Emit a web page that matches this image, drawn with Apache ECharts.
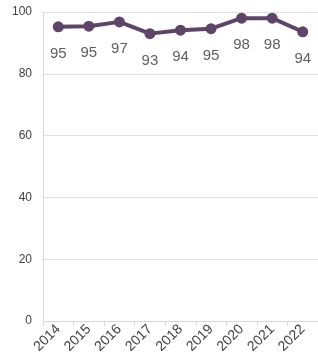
<!DOCTYPE html>
<html>
<head>
<meta charset="utf-8">
<script src="https://cdn.jsdelivr.net/npm/echarts@6/dist/echarts.min.js"></script>
<style>
  html, body { margin: 0; padding: 0; background: #fff; }
  #chart { width: 318px; height: 361px; }
</style>
</head>
<body>
<div id="chart"></div>
<script>
const years = ['2014', '2015', '2016', '2017', '2018', '2019', '2020', '2021', '2022']
const values = [95.2, 95.4, 96.8, 93.0, 94.1, 94.6, 98.0, 98.0, 93.6]
const yTicks = [0, 20, 40, 60, 80, 100]

const chart = echarts.init(document.getElementById('chart'))
chart.setOption({
  animation: false,
  grid: {
    left: 43,
    right: -5,
    top: 12,
    bottom: 40,
    containLabel: false
  },
  xAxis: {
    type: 'category',
    data: years,
    boundaryGap: true,
    axisLine: { lineStyle: { color: '#d9d9d9', width: 1 } },
    axisTick: { show: true, alignWithLabel: false, lineStyle: { color: '#d9d9d9' }, length: 5 },
    axisLabel: {
      rotate: 45,
      color: '#404040',
      fontSize: 14,
      fontFamily: 'Liberation Sans, Arial, sans-serif',
      margin: 6
    }
  },
  yAxis: {
    type: 'value',
    min: yTicks[0],
    max: yTicks[yTicks.length - 1],
    interval: 20,
    axisLine: { show: true, lineStyle: { color: '#d9d9d9', width: 1 } },
    axisTick: { show: false },
    splitLine: { lineStyle: { color: '#e0e0e0', width: 1 } },
    axisLabel: {
      color: '#404040',
      fontSize: 12,
      fontFamily: 'Liberation Sans, Arial, sans-serif',
      margin: 11
    }
  },
  series: [{
    type: 'line',
    data: values,
    symbol: 'circle',
    symbolSize: 11,
    lineStyle: { color: '#5e4468', width: 4 },
    itemStyle: { color: '#5e4468' },
    label: {
      show: true,
      position: 'bottom',
      distance: 14,
      color: '#5f5f5f',
      fontSize: 15,
      fontFamily: 'Liberation Sans, Arial, sans-serif',
      formatter: p => Math.round(p.value)
    }
  }]
})
</script>
</body>
</html>
